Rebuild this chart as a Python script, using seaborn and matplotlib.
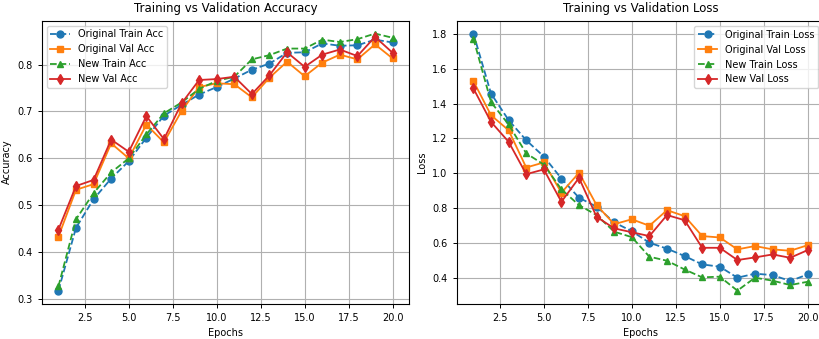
import matplotlib
matplotlib.use("Agg")
import matplotlib.pyplot as plt
import seaborn as sns
import numpy as np

epochs = list(range(1, 21))

orig_train_acc = [0.318, 0.452, 0.513, 0.557, 0.594, 0.644, 0.691, 0.714, 0.736, 0.752,
                  0.770, 0.789, 0.802, 0.825, 0.826, 0.845, 0.840, 0.841, 0.853, 0.847]
orig_val_acc = [0.433, 0.533, 0.545, 0.632, 0.600, 0.672, 0.634, 0.701, 0.752, 0.760,
                0.758, 0.730, 0.772, 0.806, 0.775, 0.804, 0.821, 0.811, 0.843, 0.813]
new_train_acc = [0.327, 0.470, 0.526, 0.570, 0.600, 0.651, 0.696, 0.719, 0.748, 0.765,
                 0.774, 0.811, 0.820, 0.834, 0.834, 0.853, 0.848, 0.854, 0.866, 0.857]
new_val_acc = [0.448, 0.541, 0.554, 0.640, 0.614, 0.690, 0.641, 0.717, 0.767, 0.769,
               0.774, 0.737, 0.777, 0.826, 0.795, 0.821, 0.832, 0.818, 0.859, 0.825]

orig_train_loss = [1.800, 1.457, 1.305, 1.190, 1.097, 0.971, 0.861, 0.810, 0.720, 0.670,
                   0.604, 0.570, 0.528, 0.480, 0.467, 0.404, 0.427, 0.419, 0.385, 0.423]
orig_val_loss = [1.528, 1.333, 1.247, 1.034, 1.063, 0.890, 1.004, 0.819, 0.710, 0.738,
                 0.701, 0.790, 0.756, 0.642, 0.634, 0.566, 0.585, 0.566, 0.558, 0.590]
new_train_loss = [1.771, 1.408, 1.280, 1.115, 1.051, 0.909, 0.819, 0.762, 0.667, 0.636,
                  0.524, 0.501, 0.451, 0.406, 0.410, 0.330, 0.404, 0.387, 0.362, 0.381]
new_val_loss = [1.486, 1.295, 1.181, 0.996, 1.023, 0.838, 0.975, 0.752, 0.686, 0.664,
                0.642, 0.762, 0.733, 0.575, 0.575, 0.505, 0.520, 0.537, 0.518, 0.562]

acc_series = [
    ("Original Train Acc", orig_train_acc, "o", "--", "#1f77b4"),
    ("Original Val Acc", orig_val_acc, "s", "-", "#ff7f0e"),
    ("New Train Acc", new_train_acc, "^", "--", "#2ca02c"),
    ("New Val Acc", new_val_acc, "d", "-", "#d62728"),
]
loss_series = [
    ("Original Train Loss", orig_train_loss, "o", "--", "#1f77b4"),
    ("Original Val Loss", orig_val_loss, "s", "-", "#ff7f0e"),
    ("New Train Loss", new_train_loss, "^", "--", "#2ca02c"),
    ("New Val Loss", new_val_loss, "d", "-", "#d62728"),
]

W, H = 820, 339
fig = plt.figure(figsize=(W / 100, H / 100), dpi=100)
ax1 = fig.add_axes([41.7 / W, 1 - 303.5 / H, (409.3 - 41.7) / W, (303.5 - 20.7) / H])
ax2 = fig.add_axes([456.7 / W, 1 - 303.5 / H, (824.5 - 456.7) / W, (303.5 - 20.7) / H])

def draw(ax, series, title, ylabel, loc, anchor=None):
    for label, vals, mk, ls, col in series:
        sns.lineplot(x=epochs, y=vals, ax=ax, label=label, marker=mk, linestyle=ls,
                     color=col, markersize=5, markeredgecolor=col, markeredgewidth=1,
                     linewidth=1.3)
    ax.set_title(title, fontsize=8.5)
    ax.set_xlabel("Epochs", fontsize=7)
    ax.set_ylabel(ylabel, fontsize=7)
    ax.tick_params(labelsize=7, length=3, width=0.7)
    ax.grid(True, color="#b0b0b0", linewidth=0.8)
    for s in ax.spines.values():
        s.set_linewidth(0.8)
    kw = {}
    if anchor is not None:
        kw = dict(bbox_to_anchor=anchor, bbox_transform=fig.transFigure, borderaxespad=0)
    ax.legend(loc=loc, fontsize=7, framealpha=0.8, handlelength=2.0, **kw)

draw(ax1, acc_series, "Training vs Validation Accuracy", "Accuracy", "upper left")
draw(ax2, loss_series, "Training vs Validation Loss", "Loss", "upper right",
     anchor=(818.5 / W, 1 - 26 / H))

fig.savefig("out.png", dpi=100)
